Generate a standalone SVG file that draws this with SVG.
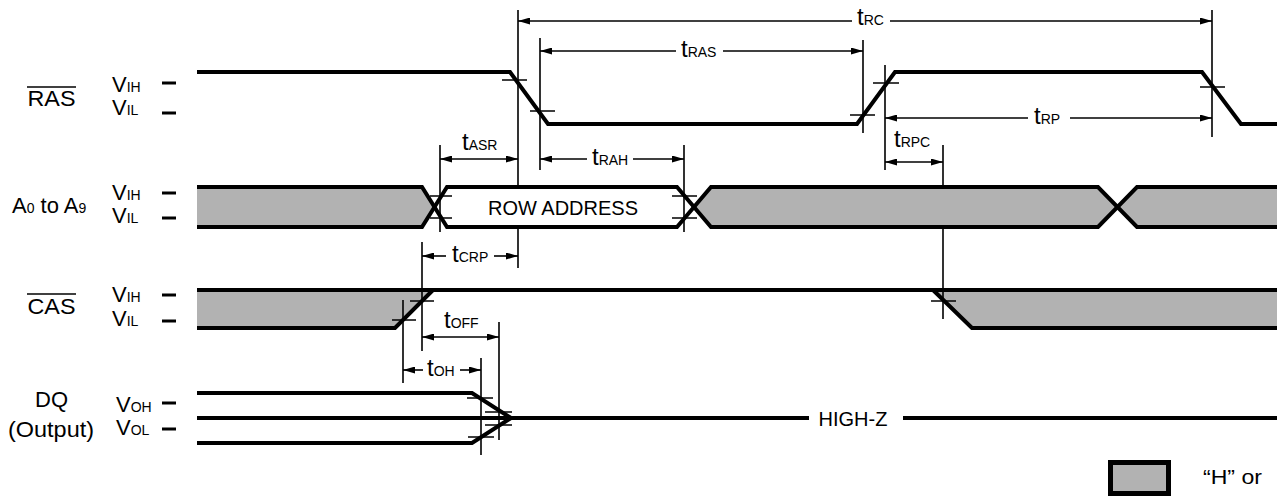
<svg xmlns="http://www.w3.org/2000/svg" width="1277" height="496" viewBox="0 0 1277 496">
<style>
text{font-family:"Liberation Sans",Arial,Helvetica,sans-serif;fill:#000}
.lbl{font-size:22px}
.v{font-size:22px}
.t{font-size:24px}
.sub{font-size:14px}
.w{fill:none;stroke:#000;stroke-width:4;stroke-linejoin:miter}
.gray{fill:#b2b2b2;stroke:none}
.white{fill:#fff;stroke:none}
.tick{stroke:#000;stroke-width:1.6;fill:none}
.dash{stroke:#000;stroke-width:3}
.vl{stroke:#000;stroke-width:1.6;fill:none}
.ar{stroke:#000;stroke-width:1.6;fill:none}
.a2{marker-start:url(#ah);marker-end:url(#ah)}
.as{marker-start:url(#ah)}
.ae{marker-end:url(#ah)}
</style>
<defs>
<marker id="ah" viewBox="0 0 12 7" refX="12" refY="3.5" markerWidth="12" markerHeight="7" markerUnits="userSpaceOnUse" orient="auto-start-reverse">
<path d="M0,0 L12,3.5 L0,7 z" fill="#000"/>
</marker>
</defs>
<rect width="1277" height="496" fill="#fff"/>

<g id="labels">
<text class="lbl" x="51.5" y="106" text-anchor="middle" textLength="48" lengthAdjust="spacingAndGlyphs">RAS</text>
<line x1="27" y1="87" x2="76" y2="87" stroke="#000" stroke-width="1.5"/>
<text class="v" x="112" y="92">V<tspan class="sub">IH</tspan></text>
<text class="v" x="112" y="115">V<tspan class="sub">IL</tspan></text>
<line class="dash" x1="162" y1="83" x2="176" y2="83"/>
<line class="dash" x1="162" y1="113" x2="176" y2="113"/>

<text class="lbl" x="12" y="213">A<tspan class="sub">0</tspan> to A<tspan class="sub">9</tspan></text>
<text class="v" x="112" y="200">V<tspan class="sub">IH</tspan></text>
<text class="v" x="112" y="223">V<tspan class="sub">IL</tspan></text>
<line class="dash" x1="162" y1="193" x2="176" y2="193"/>
<line class="dash" x1="162" y1="218" x2="176" y2="218"/>

<text class="lbl" x="51.5" y="314" text-anchor="middle" textLength="48" lengthAdjust="spacingAndGlyphs">CAS</text>
<line x1="27" y1="294" x2="76" y2="294" stroke="#000" stroke-width="1.5"/>
<text class="v" x="112" y="302">V<tspan class="sub">IH</tspan></text>
<text class="v" x="112" y="326">V<tspan class="sub">IL</tspan></text>
<line class="dash" x1="162" y1="295" x2="176" y2="295"/>
<line class="dash" x1="162" y1="321" x2="176" y2="321"/>

<text class="lbl" x="51.5" y="407" text-anchor="middle">DQ</text>
<text class="lbl" x="51" y="437" text-anchor="middle" textLength="86" lengthAdjust="spacingAndGlyphs">(Output)</text>
<text class="v" x="116" y="412">V<tspan class="sub">OH</tspan></text>
<text class="v" x="116" y="435">V<tspan class="sub">OL</tspan></text>
<line class="dash" x1="162" y1="403" x2="176" y2="403"/>
<line class="dash" x1="162" y1="429" x2="176" y2="429"/>
</g>

<g id="ras">
<polyline class="w" points="197,72 510,72 548,124 857,124 895,72 1202,72 1241,124 1277,124"/>
<path class="tick" d="M502,80H527M530,111H555M850,115H875M873,83H899M1200,87H1225"/>
</g>

<g id="address">
<polygon class="gray" points="197,187 422,187 434,207 422,227 197,227"/>
<polygon class="white" points="447,187 677,187 694,207 677,227 447,227 434,207"/>
<polygon class="gray" points="711,187 1098,187 1117,207 1098,227 711,227 694,207"/>
<polygon class="gray" points="1137,187 1277,187 1277,227 1137,227 1117,207"/>
<path class="w" d="M197,187H422L447,227H677L711,187H1098L1137,227H1277"/>
<path class="w" d="M197,227H422L447,187H677L711,227H1098L1137,187H1277"/>
<text x="563" y="215" text-anchor="middle" font-size="20">ROW ADDRESS</text>
<path class="tick" d="M430,196H452M430,218H452M672,196H697M672,218H697"/>
</g>

<g id="cas">
<polygon class="gray" points="197,290 433,290 395,328 197,328"/>
<polygon class="gray" points="933,290 1277,290 1277,328 972,328"/>
<polyline class="w" points="197,328 395,328 433,290"/>
<line class="w" x1="197" y1="290" x2="1277" y2="290"/>
<polyline class="w" points="933,290 972,328 1277,328"/>
<path class="tick" d="M410,301H434M392,320H416M931,301H956"/>
</g>

<g id="dq">
<polyline class="w" points="197,393 472,393 511,418"/>
<polyline class="w" points="197,443 472,443 511,418"/>
<line class="w" x1="197" y1="418" x2="809" y2="418"/>
<line class="w" x1="903" y1="418" x2="1277" y2="418"/>
<text x="853" y="426" text-anchor="middle" font-size="20">HIGH-Z</text>
<path class="tick" d="M467,398H493M485,412H512M485,425H512M468,437H494"/>
</g>

<g id="legend">
<rect x="1110.5" y="462.5" width="58" height="31" fill="#b2b2b2" stroke="#000" stroke-width="5"/>
<text x="1203" y="484" font-size="21" textLength="59" lengthAdjust="spacingAndGlyphs">“H” or</text>
</g>

<g id="connectors">
<path class="vl" d="M518,10V185M518,229V268M540,38V170M863,40V133M885,65V170M943,145V185M943,229V319M1212,10V137M440,145V232M684,145V232M422,242V351M403,300V383M499,322V440M481,358V455"/>
<line class="ar as" x1="518" y1="21" x2="852" y2="21"/>
<line class="ar ae" x1="890" y1="21" x2="1212" y2="21"/>
<line class="ar as" x1="540" y1="51" x2="676" y2="51"/>
<line class="ar ae" x1="723" y1="51" x2="863" y2="51"/>
<line class="ar as" x1="885" y1="118" x2="1028" y2="118"/>
<line class="ar ae" x1="1070" y1="118" x2="1212" y2="118"/>
<line class="ar a2" x1="885" y1="162" x2="943" y2="162"/>
<line class="ar a2" x1="440" y1="159" x2="518" y2="159"/>
<line class="ar as" x1="540" y1="159" x2="587" y2="159"/>
<line class="ar ae" x1="633" y1="159" x2="684" y2="159"/>
<line class="ar as" x1="422" y1="256" x2="446" y2="256"/>
<line class="ar ae" x1="494" y1="256" x2="518" y2="256"/>
<line class="ar a2" x1="422" y1="337" x2="499" y2="337"/>
<line class="ar as" x1="403" y1="370" x2="423" y2="370"/>
<line class="ar ae" x1="460" y1="370" x2="481" y2="370"/>
<text class="t" x="857" y="25">t<tspan class="sub">RC</tspan></text>
<text class="t" x="681" y="57">t<tspan class="sub">RAS</tspan></text>
<text class="t" x="1034" y="124">t<tspan class="sub">RP</tspan></text>
<text class="t" x="894" y="147">t<tspan class="sub">RPC</tspan></text>
<text class="t" x="462" y="150">t<tspan class="sub">ASR</tspan></text>
<text class="t" x="592" y="165">t<tspan class="sub">RAH</tspan></text>
<text class="t" x="452" y="262">t<tspan class="sub">CRP</tspan></text>
<text class="t" x="444" y="328">t<tspan class="sub">OFF</tspan></text>
<text class="t" x="427" y="376">t<tspan class="sub">OH</tspan></text>
</g>
</svg>
